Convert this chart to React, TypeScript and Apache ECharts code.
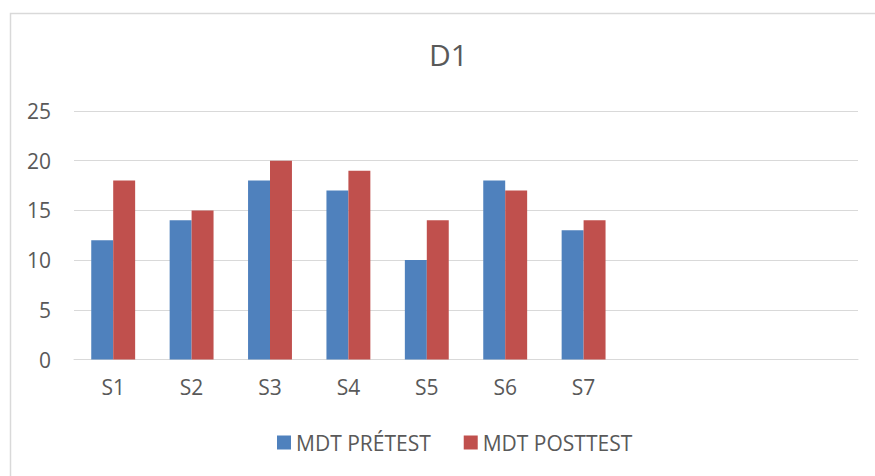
import React, { useEffect, useRef } from "react";
import * as echarts from "echarts";

const categories = ["S1", "S2", "S3", "S4", "S5", "S6", "S7", "", "", ""];
const pretest = [12, 14, 18, 17, 10, 18, 13];
const posttest = [18, 15, 20, 19, 14, 17, 14];
const seriesNames = ["MDT PRÉTEST", "MDT POSTTEST"];
const titleText = "D1";

const FONT = "'Open Sans', sans-serif";
const TEXT = "#595959";

export default function App() {
  const ref = useRef<HTMLDivElement>(null);
  useEffect(() => {
    if (!ref.current) return;
    const chart = echarts.init(ref.current, undefined, { renderer: "svg" });
    chart.setOption({
      animation: false,
      backgroundColor: "#ffffff",
      textStyle: { fontFamily: FONT },
      title: {
        text: titleText,
        left: 429,
        top: 39,
        padding: 0,
        textStyle: { fontFamily: FONT, fontSize: 30, fontWeight: "normal", color: TEXT },
      },
      graphic: [
        {
          type: "rect",
          shape: { x: 10.5, y: 13.5, width: 900, height: 500 },
          style: { fill: "none", stroke: "#d9d9d9", lineWidth: 1.5 },
          silent: true,
        },
      ],
      legend: {
        left: 277,
        top: 432,
        padding: 0,
        itemWidth: 14,
        itemHeight: 14,
        itemGap: 33,
        icon: "rect",
        textStyle: { fontFamily: FONT, fontSize: 21, color: TEXT },
        data: seriesNames,
      },
      grid: { left: 74, right: 17, top: 111, bottom: 116.5, containLabel: false },
      xAxis: {
        type: "category",
        data: categories,
        axisLine: { lineStyle: { color: "#d9d9d9", width: 1 } },
        axisTick: { show: false },
        axisLabel: { fontFamily: FONT, fontSize: 21, color: TEXT, margin: 17 },
      },
      yAxis: {
        type: "value",
        min: 0,
        max: 25,
        interval: 5,
        axisLine: { show: false },
        axisTick: { show: false },
        splitLine: { lineStyle: { color: "#d9d9d9", width: 1 } },
        axisLabel: { fontFamily: FONT, fontSize: 21, color: TEXT, margin: 23 },
      },
      series: [
        {
          name: seriesNames[0],
          type: "bar",
          data: pretest,
          barGap: "0%",
          barCategoryGap: "44%",
          itemStyle: { color: "#4F81BD" },
        },
        {
          name: seriesNames[1],
          type: "bar",
          data: posttest,
          barGap: "0%",
          barCategoryGap: "44%",
          itemStyle: { color: "#C0504D" },
        },
      ],
    });
    return () => chart.dispose();
  }, []);
  return (
    <div
      ref={ref}
      style={{ position: "fixed", left: 0, top: 0, width: 875, height: 476 }}
    />
  );
}
